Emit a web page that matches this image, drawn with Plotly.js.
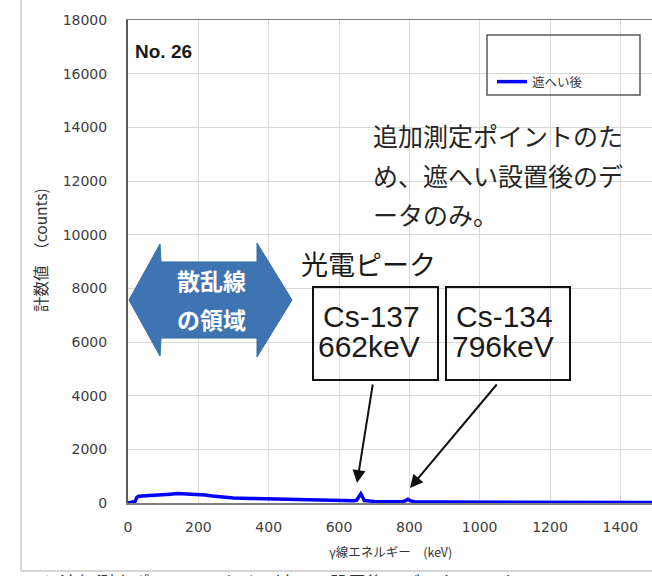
<!DOCTYPE html>
<html>
<head>
<meta charset="utf-8">
<script src="https://cdn.plot.ly/plotly-3.0.1.min.js"></script>
<style>html,body{margin:0;padding:0;background:#fff;}</style>
</head>
<body>
<div id="chart" style="width:652px;height:576px;"></div>
<script>
// ---- data ----
const energyKeV = [0, 10, 20, 25, 30, 40, 60, 80, 100, 120, 140, 160, 180, 200, 220, 240, 260, 280, 300, 350, 400, 450, 500, 550, 600, 640, 650, 658, 662, 666, 672, 700, 750, 780, 790, 796, 802, 815, 900, 1000, 1100, 1200, 1300, 1400, 1490];
const countsAfter = [0, 20, 60, 200, 250, 260, 270, 280, 300, 330, 350, 340, 340, 330, 300, 260, 230, 210, 190, 170, 150, 130, 110, 95, 85, 80, 100, 250, 340, 250, 90, 60, 50, 50, 90, 140, 90, 45, 35, 30, 25, 22, 20, 18, 15];
const seriesName = '遮へい後';
const xTicks = [0, 200, 400, 600, 800, 1000, 1200, 1400];
const yTicks = [0, 2000, 4000, 6000, 8000, 10000, 12000, 14000, 16000, 18000];

// ---- layout helpers (pixel -> paper) ----
const W = 652, H = 576, ML = 128, MR = 0, MT = 20, MB = 73;
const PW = W - ML - MR, PH = H - MT - MB;
const px = x => (x - ML) / PW;
const py = y => (H - MB - y) / PH;

const cjk = '"Noto Sans CJK JP", "Noto Sans", sans-serif';
const tickFont = {family: '"DejaVu Sans", Verdana, sans-serif', size: 14, color: '#404040'};

const trace = {
  x: energyKeV, y: countsAfter, type: 'scatter', mode: 'lines',
  name: seriesName, line: {color: '#0000FF', width: 3.5}
};

// arrow shape (left-right block arrow)
const arrowPath = [
  [129,300],[160,244],[161,262],[257,262],[257,243],[292,300],
  [257,357],[257,338],[161,338],[160,356]
].map((p,i) => (i ? 'L' : 'M') + px(p[0]).toFixed(4) + ',' + py(p[1]).toFixed(4)).join(' ') + ' Z';

const rect = (x0,y0,x1,y1,color,w) => ({type:'rect', xref:'paper', yref:'paper',
  x0:px(x0), x1:px(x1), y0:py(y1), y1:py(y0), line:{color:color, width:w}, fillcolor:'rgba(0,0,0,0)'});
const lineShape = (x0,y0,x1,y1,color,w) => ({type:'line', xref:'paper', yref:'paper',
  x0:px(x0), x1:px(x1), y0:py(y0), y1:py(y1), line:{color:color, width:w}});

const txt = (x,y,text,font,xanchor) => ({xref:'paper', yref:'paper', x:px(x), y:py(y),
  text:text, showarrow:false, xanchor:xanchor||'left', yanchor:'middle', font:font});

const annotations = [
  txt(133, 52, '<b>No. 26</b>', {family:'"Liberation Sans", Arial, sans-serif', size:19, color:'#1a1a1a'}),
  txt(371, 135, '追加測定ポイントのた', {family:cjk, size:25, color:'#262626'}),
  txt(371, 175, 'め、遮へい設置後のデ', {family:cjk, size:25, color:'#262626'}),
  txt(371, 214, 'ータのみ。', {family:cjk, size:25, color:'#262626'}),
  txt(299, 263, '光電ピーク', {family:cjk, size:27, color:'#1a1a1a'}),
  txt(321, 316, 'Cs-137', {family:'"Liberation Sans", Arial, sans-serif', size:30, color:'#1a1a1a'}),
  txt(316, 346, '662keV', {family:'"Liberation Sans", Arial, sans-serif', size:30, color:'#1a1a1a'}),
  txt(454, 316, 'Cs-134', {family:'"Liberation Sans", Arial, sans-serif', size:30, color:'#1a1a1a'}),
  txt(450, 346, '796keV', {family:'"Liberation Sans", Arial, sans-serif', size:30, color:'#1a1a1a'}),
  txt(211, 280, '<b>散乱線</b>', {family:cjk, size:23, color:'#ffffff'}, 'center'),
  txt(211, 319, '<b>の領域</b>', {family:cjk, size:23, color:'#ffffff'}, 'center'),
  // axis titles
  {xref:'paper', yref:'paper', x:px(40), y:py(250), text:'計数値　（counts)', showarrow:false,
   textangle:-90, xanchor:'center', yanchor:'middle', font:{family:cjk, size:15.5, color:'#333'}},
  txt(390, 551, 'γ線エネルギー　(keV)', {family:cjk, size:12.5, color:'#333'}, 'center'),
  // cut-off caption under the chart (cropped in the reference too)
  txt(-2, 582, 'ト 25と追加測定ポイントのため、遮へい設置後のデータのみ（ー 24', {family:cjk, size:18, color:'#333'}),
  // arrows to the peaks
  {xref:'paper', yref:'paper', x:px(357), y:py(483), ax:16, ay:-100, text:'', showarrow:true,
   arrowhead:2, arrowsize:1.3, arrowwidth:2, arrowcolor:'#111'},
  {xref:'paper', yref:'paper', x:px(410), y:py(488), ax:88, ay:-105, text:'', showarrow:true,
   arrowhead:2, arrowsize:1.3, arrowwidth:2, arrowcolor:'#111'}
];

const shapes = [
  lineShape(21, 0, 21, 571, '#c8c8c8', 1.5),
  lineShape(21, 571, 652, 571, '#c8c8c8', 1.5),
  {type:'path', xref:'paper', yref:'paper', path:arrowPath, fillcolor:'#3f74b3', line:{color:'#356aa8', width:1}},
  rect(313, 287, 438, 380, '#111', 2),
  rect(446, 287, 570, 380, '#111', 2),
  rect(487, 35, 640, 95, '#595959', 1.5)
];

const layout = {
  width: W, height: H,
  margin: {l: ML, r: MR, t: MT, b: MB, pad: 0},
  paper_bgcolor: '#ffffff', plot_bgcolor: '#ffffff',
  showlegend: true,
  legend: {x: px(492), y: py(82), xanchor: 'left', yanchor: 'middle', bgcolor: 'rgba(0,0,0,0)',
           font: {family: cjk, size: 12.5, color: '#333'}},
  xaxis: {range: [0, 1490], tickvals: xTicks, ticktext: xTicks.map(String), showgrid: true,
          gridcolor: '#d9d9d9', gridwidth: 1, zeroline: false, showline: true, mirror: true,
          linecolor: '#7f7f7f', linewidth: 1.5, ticks: '', tickfont: tickFont, ticklabelstandoff: 11},
  yaxis: {range: [0, 18000], tickvals: yTicks, ticktext: yTicks.map(String), showgrid: true,
          gridcolor: '#d9d9d9', gridwidth: 1, zeroline: false, showline: true, mirror: true,
          linecolor: '#595959', linewidth: 2, ticks: '', tickfont: tickFont, ticklabelstandoff: 16},
  shapes: shapes,
  annotations: annotations
};

Plotly.newPlot('chart', [trace], layout, {displayModeBar: false, staticPlot: true});
</script>
</body>
</html>
